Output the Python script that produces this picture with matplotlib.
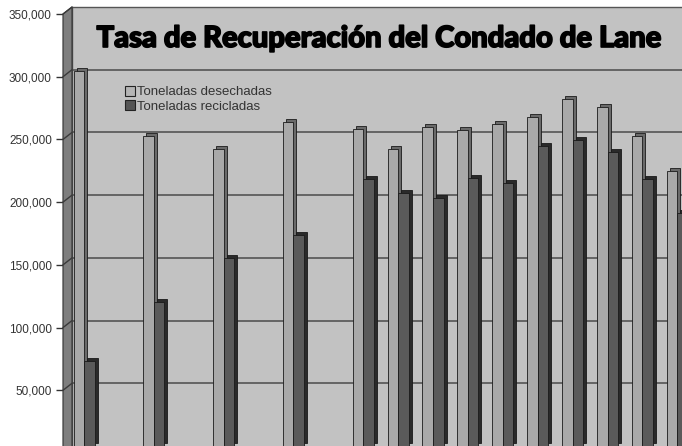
import numpy as np
import matplotlib.pyplot as plt
import matplotlib.patheffects as pe
from matplotlib.patches import ConnectionPatch, Polygon, Patch
from matplotlib.transforms import offset_copy

# category slots along the x axis (gaps are years with no data)
slots = [0, 2, 4, 6, 8, 9, 10, 11, 12, 13, 14, 15, 16, 17]
desechadas = [299000, 247000, 237000, 258000, 253000, 237000, 254000,
              252000, 257000, 262000, 277000, 270000, 247000, 219000]
recicladas = [68000, 115000, 150000, 168000, 213000, 202000, 198000,
              214000, 210000, 239000, 244000, 234000, 213000, 186000]
yticks = [50000, 100000, 150000, 200000, 250000, 300000, 350000]
labels = ["Toneladas desechadas", "Toneladas recicladas"]
title = "Tasa de Recuperación del Condado de Lane"

W, H = 682, 446
fig = plt.figure(figsize=(W / 100, H / 100), dpi=100)
fig.patch.set_facecolor("white")

ymin, ymax = -10000, 350000
ppv = 439 / 350000  # pixels per unit

# back wall (gridlines, bars)
wall_bot = 446 + (0 - ymin) * ppv
wall = fig.add_axes([72 / W, (446 - wall_bot) / H, (682 - 72) / W, (wall_bot - 7) / H])
wall.set_facecolor("#c2c2c2")
wall.set_ylim(ymin, ymax)
wall.set_xlim((72 - 84) / 34.9, (682 - 84) / 34.9)
wall.set_xticks([])
wall.set_yticks([])
for v in yticks:
    wall.axhline(v, color="#4a4a4a", lw=1.1, zorder=1)
for s in ["left", "top"]:
    wall.spines[s].set_color("#555555")
    wall.spines[s].set_linewidth(1.0)
for s in ["right", "bottom"]:
    wall.spines[s].set_visible(False)

# front value axis (labels)
front_bot = 14 + (ymax - ymin) * ppv
front = fig.add_axes([63 / W, (446 - front_bot) / H, 5 / W, (front_bot - 14) / H])
front.set_facecolor("none")
front.set_ylim(ymin, ymax)
front.set_xticks([])
front.set_yticks(yticks)
front.set_yticklabels([f"{v:,}" for v in yticks], fontsize=8.5,
                      family="Liberation Sans", color="#333333")
front.tick_params(axis="y", length=5, width=1, color="#333333", pad=3)
for s in ["right", "top", "bottom"]:
    front.spines[s].set_visible(False)
front.spines["left"].set_color("#333333")

# side wall between front axis and back wall
inv = fig.transFigure.inverted()
ft = front.get_yaxis_transform()
wt = wall.get_yaxis_transform()
pts = [ft.transform((0, ymax)), wt.transform((0, ymax)),
       wt.transform((0, ymin)), ft.transform((0, ymin))]
side = Polygon(inv.transform(np.array(pts)), closed=True, transform=fig.transFigure,
               facecolor="#7e7e7e", edgecolor="#333333", lw=0.8, zorder=2)
fig.add_artist(side)
for v in yticks:
    con = ConnectionPatch(xyA=(0, v), coordsA=ft, xyB=(0, v), coordsB=wt,
                          color="#3a3a3a", lw=1.0, zorder=3)
    fig.add_artist(con)

# 3D-looking bars: darker copy shifted right/up behind each front face
w = 10.5 / 34.9
x = np.array(slots)
shift = offset_copy(wall.transData, fig=fig, x=3, y=3, units="dots")
series = [(x - w / 2, desechadas, "#a9a9a9", "#6a6a6a"),
          (x + w / 2, recicladas, "#5a5a5a", "#2a2a2a")]
z = 3
for xs, vals, face, sidec in series:
    wall.bar(xs, vals, width=w, color=sidec, edgecolor="#1a1a1a", lw=0.6,
             transform=shift, zorder=z)
    wall.bar(xs, vals, width=w, color=face, edgecolor="#1a1a1a", lw=0.6, zorder=z + 1)
    z += 2

handles = [Patch(facecolor="#b5b5b5", edgecolor="#222222", lw=0.8),
           Patch(facecolor="#555555", edgecolor="#222222", lw=0.8)]
leg = wall.legend(handles, labels, loc="upper left", bbox_to_anchor=(118 / W, 1 - 79 / H),
                  bbox_transform=fig.transFigure, frameon=False, borderpad=0,
                  handlelength=0.8, handleheight=0.85, handletextpad=0.15,
                  labelspacing=0.1, prop={"family": "Liberation Sans", "size": 9.5})
for t in leg.get_texts():
    t.set_color("#333333")

fig.text(378 / W, 1 - 39 / H, title, ha="center", va="center",
         fontfamily="Lato", fontweight="black", fontsize=21, color="black",
         path_effects=[pe.withStroke(linewidth=1.2, foreground="black")])

fig.savefig("out.png", dpi=100)
